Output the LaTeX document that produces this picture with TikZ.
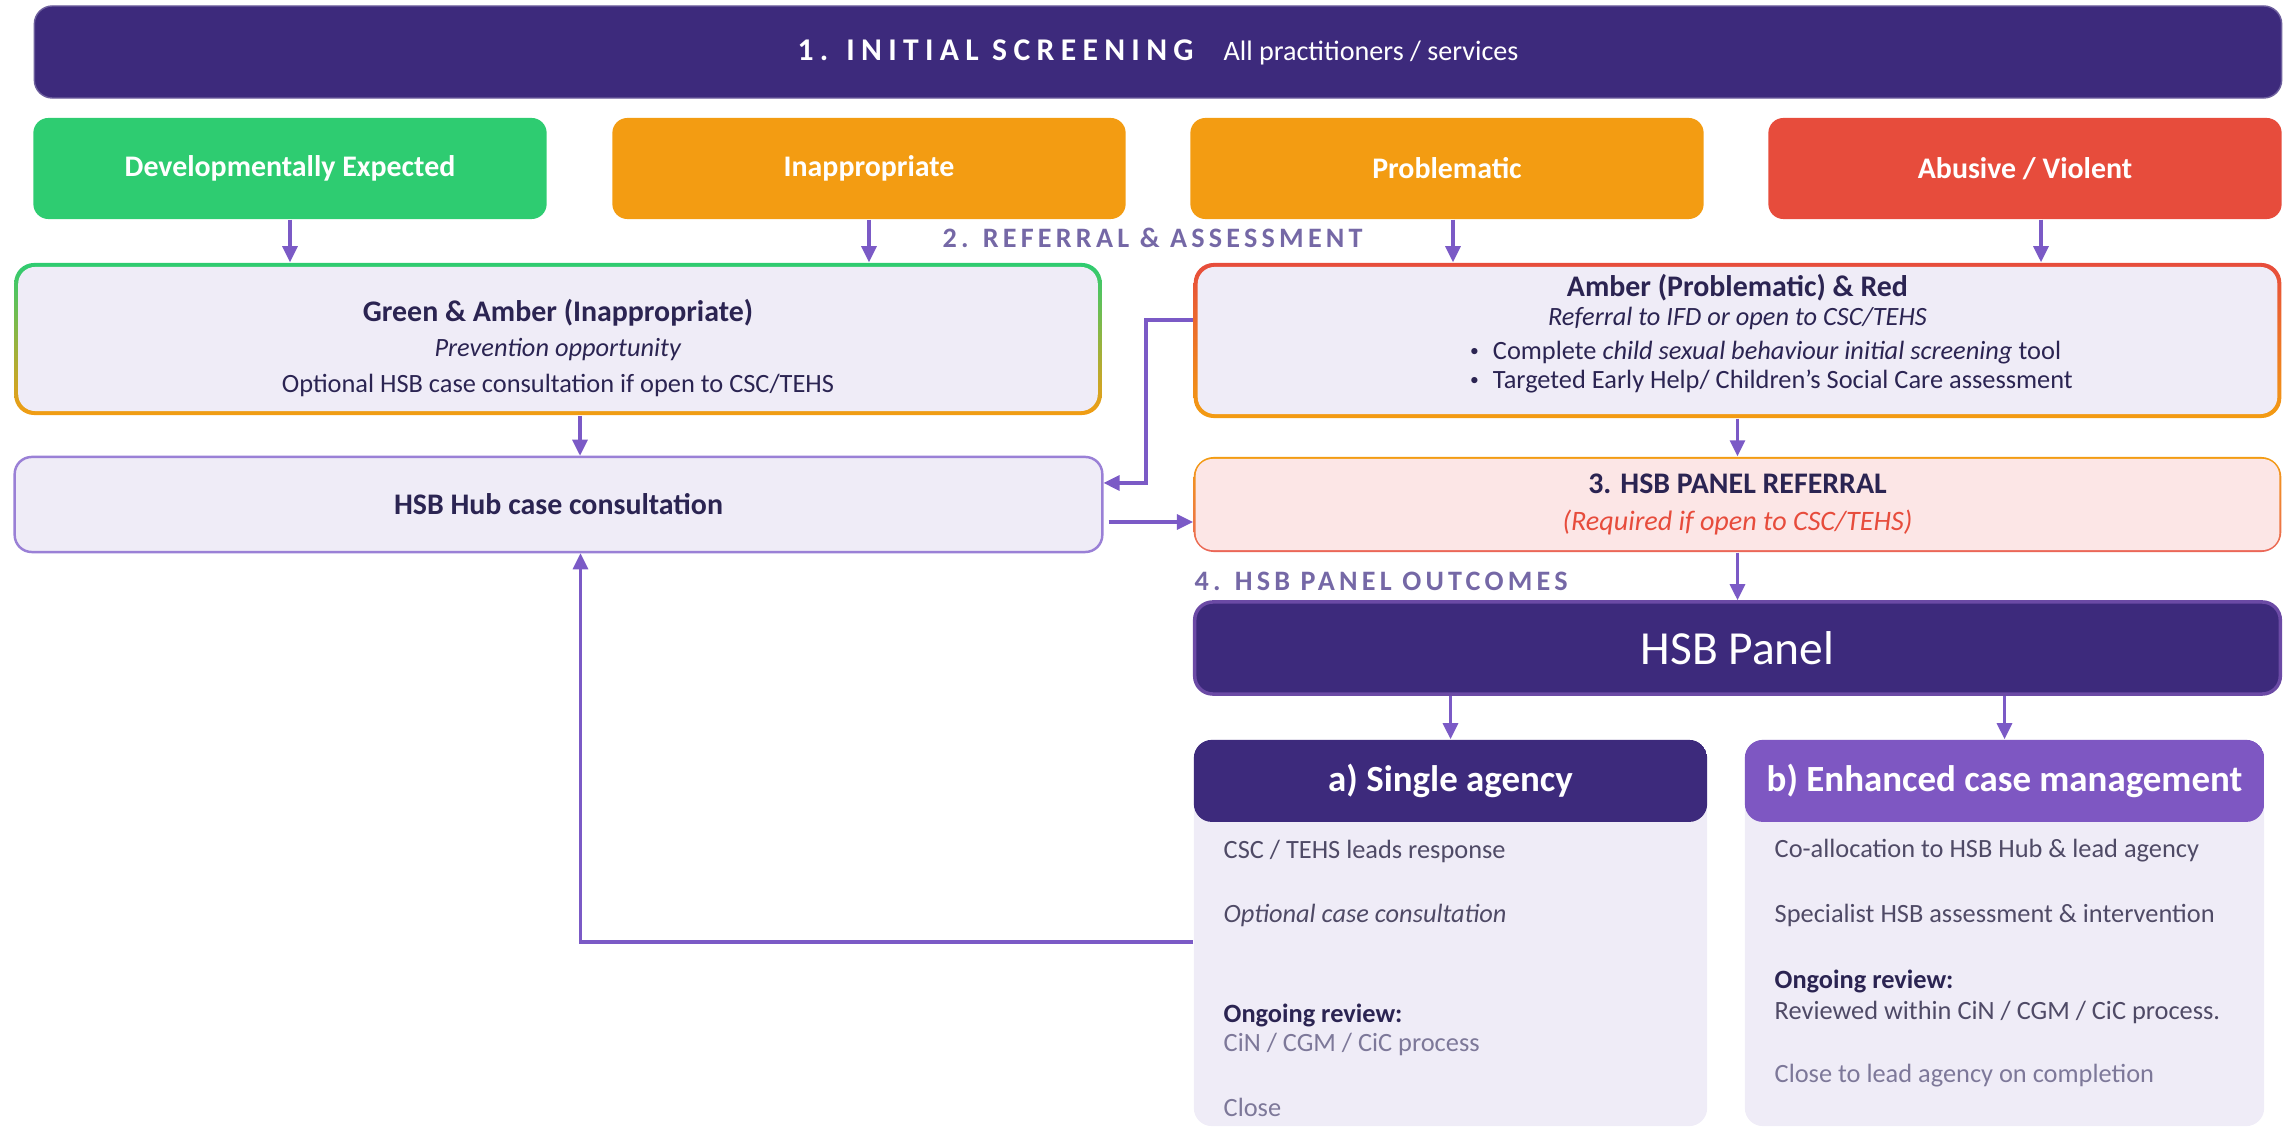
\documentclass[tikz,border=0pt]{standalone}
\usepackage{fontspec}
\setmainfont{Carlito}
\newfontfamily\spacedfont[LetterSpace=15]{Carlito}
\newfontfamily\titlefont[LetterSpace=20]{Carlito}
\usetikzlibrary{positioning,arrows.meta,calc}

\definecolor{hsbdark}{HTML}{3D2A7C}
\definecolor{hsbmid}{HTML}{7E57C2}
\definecolor{hsbarrow}{HTML}{7B5AC6}
\definecolor{hsblav}{HTML}{EFECF7}
\definecolor{hsbpink}{HTML}{FCE6E6}
\definecolor{hsbgreen}{HTML}{2ECC71}
\definecolor{hsborange}{HTML}{F39C12}
\definecolor{hsbred}{HTML}{E74C3C}
\definecolor{hsbtext}{HTML}{2B2452}
\definecolor{hsbgrey}{HTML}{4F4A66}
\definecolor{hsblight}{HTML}{7D7899}
\definecolor{hsbsection}{HTML}{7568A6}
\definecolor{hsbhub}{HTML}{9A80D6}

\newcommand{\hsbdot}{\raisebox{0.25ex}{\fontsize{5}{5}\selectfont\textbullet}}

\begin{document}
\begin{tikzpicture}[
    x=0.01cm, y=-0.01cm,
    catbox/.style={rounded corners=0.15cm, minimum width=5.13cm, minimum height=1.01cm, text=white, font=\bfseries\fontsize{8.5}{10}\selectfont},
    rimbox/.style={rounded corners=0.2cm, minimum width=10.87cm},
    lavbox/.style={rounded corners=0.17cm, fill=hsblav, text=hsbtext, align=center},
    outcome/.style={rounded corners=0.18cm, fill=hsblav, minimum height=3.86cm},
    flow/.style={draw=hsbarrow, line width=0.9pt, -{Triangle[length=1.6mm,width=1.5mm]}},
    section/.style={anchor=west, inner sep=0pt, text=hsbsection, font=\spacedfont\bfseries\fontsize{8}{10}\selectfont},
    btxt/.style={anchor=west, inner sep=0pt, text=hsbgrey, font=\fontsize{7.5}{9}\selectfont}, ]
    \useasboundingbox (0,0) rectangle (2290,1128);

    % 1. screening bar
    \node[fill=hsbdark, draw=hsbdark!75, rounded corners=0.18cm, minimum width=22.46cm, minimum height=0.92cm, text=white] (scr) at (1158,52)
        {{\titlefont\bfseries\fontsize{9}{10}\selectfont 1. INITIAL SCREENING}\hspace{0.3cm}{\fontsize{8}{10}\selectfont All practitioners / services}};

    \node[catbox, fill=hsbgreen] (dev) at (290,168.5) {Developmentally Expected};
    \node[catbox, fill=hsborange] (ina) at (869,168.5) {Inappropriate};
    \node[catbox, fill=hsborange] (pro) at (1447,168.5) {Problematic};
    \node[catbox, fill=hsbred] (abu) at (2025,168.5) {Abusive / Violent};

    \node[section] (sec2) at (942,238) {2. REFERRAL \& ASSESSMENT};

    % 2. referral and assessment
    \node[rimbox, top color=hsbgreen, bottom color=hsborange, minimum height=1.52cm] (ga-o) at (558,339) {};
    \node[lavbox, minimum width=10.79cm, minimum height=1.44cm] (ga) at (ga-o) {};
    \node[align=center, text=hsbtext, font=\fontsize{7.5}{10}\selectfont] (ga-t) at (558,348)
        {{\bfseries\fontsize{8.5}{10}\selectfont Green \& Amber (Inappropriate)}\\
         \textit{Prevention opportunity}\\
         Optional HSB case consultation if open to CSC/TEHS};

    \node[rimbox, top color=hsbred, bottom color=hsborange, minimum height=1.55cm] (ar-o) at (1737.5,340.5) {};
    \node[lavbox, minimum width=10.79cm, minimum height=1.47cm] (ar) at (ar-o) {};
    \node[align=center, text=hsbtext, font=\fontsize{7.5}{8.3}\selectfont] (ar-t) at (1737.5,336)
        {{\bfseries\fontsize{8.5}{8.3}\selectfont Amber (Problematic) \& Red}\\
         \textit{Referral to IFD or open to CSC/TEHS}\\[1.5pt]
         \hspace{0.68cm}\begin{tabular}{@{}l@{}}
         \hsbdot\hspace{0.14cm}Complete \textit{child sexual behaviour initial screening} tool\\
         \hsbdot\hspace{0.14cm}Targeted Early Help/ Children’s Social Care assessment
         \end{tabular}};

    \node[lavbox, draw=hsbhub, line width=0.7pt, minimum width=10.87cm, minimum height=0.95cm, font=\bfseries\fontsize{8.5}{10}\selectfont] (hub) at (558.5,504.5) {HSB Hub case consultation};

    % 3. panel referral
    \node[rimbox, top color=hsborange, bottom color=hsbred!85, minimum height=0.95cm] (ref-o) at (1737.5,504.5) {};
    \node[lavbox, fill=hsbpink, minimum width=10.83cm, minimum height=0.91cm, font=\fontsize{8}{10.5}\selectfont] (ref) at (ref-o)
        {{\bfseries\fontsize{8.5}{10}\selectfont 3. HSB PANEL REFERRAL}\\
         \textcolor{hsbred}{\textit{(Required if open to CSC/TEHS)}}};

    \node[section] (sec4) at (1194,581) {4. HSB PANEL OUTCOMES};

    % 4. panel and outcomes
    \node[fill=hsbdark, draw=hsbmid!85!black, line width=1pt, rounded corners=0.18cm, minimum width=10.85cm, minimum height=0.92cm, text=white, font=\fontsize{13.5}{15}\selectfont] (panel) at (1737.5,648) {HSB Panel};

    \node[outcome, minimum width=5.13cm, path picture={\fill[hsbdark] (path picture bounding box.north west) rectangle ([yshift=-0.82cm]path picture bounding box.north east);}] (sa) at (1450.5,933) {};
    \node[outcome, minimum width=5.19cm, path picture={\fill[hsbmid] (path picture bounding box.north west) rectangle ([yshift=-0.82cm]path picture bounding box.north east);}] (ecm) at (2004.5,933) {};

    \node[text=white, font=\bfseries\fontsize{10.5}{12}\selectfont] (sa-t) at (1450.5,781) {a) Single agency};
    \node[text=white, font=\bfseries\fontsize{10.5}{12}\selectfont] (ecm-t) at (2004.5,781) {b) Enhanced case management};

    \node[btxt] (sa-1) at (1223,851) {CSC / TEHS leads response};
    \node[btxt] (sa-2) at (1223,915) {\textit{Optional case consultation}};
    \node[btxt, text=hsbtext, font=\bfseries\fontsize{7.5}{9}\selectfont] (sa-3) at (1223,1015) {Ongoing review:};
    \node[btxt, text=hsblight] (sa-4) at (1223,1044) {CiN / CGM / CiC process};
    \node[btxt, text=hsblight] (sa-5) at (1223,1107) {Close};

    \node[btxt] (ecm-1) at (1774,851) {Co-allocation to HSB Hub \& lead agency};
    \node[btxt] (ecm-2) at (1774,915) {Specialist HSB assessment \& intervention};
    \node[btxt, text=hsbtext, font=\bfseries\fontsize{7.5}{9}\selectfont] (ecm-3) at (1774,981) {Ongoing review:};
    \node[btxt] (ecm-4) at (1774,1012) {Reviewed within CiN / CGM / CiC process.};
    \node[btxt, text=hsblight] (ecm-5) at (1774,1076) {Close to lead agency on completion};

    % connectors
    \draw[flow] (dev.south) -- (dev.south |- ga-o.north);
    \draw[flow] (ina.south) -- (ina.south |- ga-o.north);
    \draw[flow] ([xshift=0.06cm]pro.south) -- ([xshift=0.06cm]pro.south |- ar-o.north);
    \draw[flow] ([xshift=0.16cm]abu.south) -- ([xshift=0.16cm]abu.south |- ar-o.north);

    \draw[flow] ([xshift=0.22cm]ga-o.south) -- ([xshift=0.22cm]ga-o.south |- hub.north);
    \draw[flow] ([yshift=0.205cm]ar-o.west) -- ++(-47,0) |- ([yshift=0.215cm]hub.east);
    \draw[flow] ([yshift=-0.175cm, xshift=0.05cm]hub.east) -- ([yshift=-0.175cm]ref-o.west);
    \draw[flow] (ar-o.south) -- (ar-o.south |- ref-o.north);
    \draw[flow] (ref-o.south) -- (ref-o.south |- panel.north);

    \draw[flow] (panel.south -| sa.north) -- (sa.north);
    \draw[flow] (panel.south -| ecm.north) -- (ecm.north);
    \draw[flow] ([yshift=-0.09cm]sa.west) -| ([xshift=0.22cm]hub.south);

\end{tikzpicture}
\end{document}
